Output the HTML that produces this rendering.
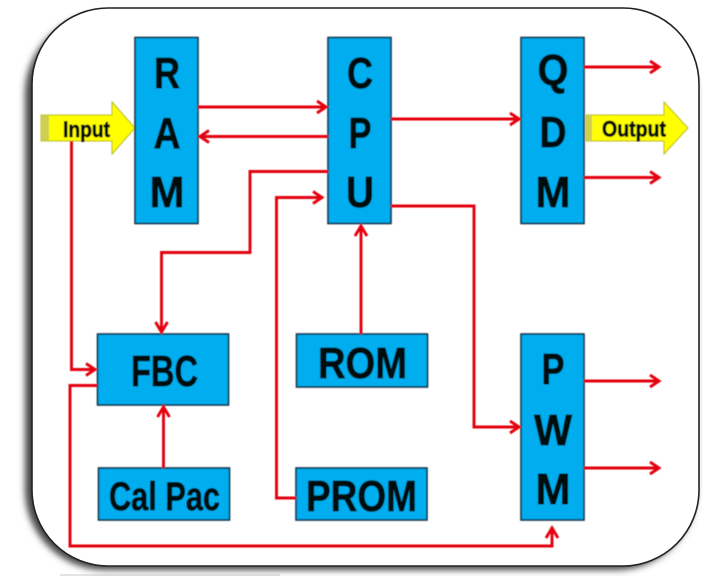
<!DOCTYPE html>
<html><head><meta charset="utf-8">
<style>
html,body{margin:0;padding:0;background:#fff;width:720px;height:576px;overflow:hidden}
svg{display:block}
text{font-family:"Liberation Sans",sans-serif;font-weight:bold;fill:#05070a;stroke:#05070a;stroke-width:.7px}
</style></head>
<body>
<svg width="720" height="576" viewBox="0 0 720 576" xmlns="http://www.w3.org/2000/svg">
<defs>
<filter id="s" x="-10%" y="-10%" width="120%" height="120%"><feGaussianBlur stdDeviation="3.500"/></filter>
<filter id="b" x="-5%" y="-5%" width="110%" height="110%"><feGaussianBlur stdDeviation="0.500"/></filter>
</defs>
<rect width="720" height="576" fill="#fff"/>
<rect x="60" y="574" width="220" height="2" fill="#e4e4e4"/>
<rect x="25" y="14" width="671" height="556" rx="80" fill="#444" filter="url(#s)"/>
<rect x="32" y="8" width="667" height="558" rx="76" fill="#fff" stroke="#222" stroke-width="1.600"/>
<g filter="url(#b)">
<!-- yellow arrows -->
<g stroke="#b8b820" stroke-width="1" fill="#ffff00">
<path d="M41 115H112V102L135 128L112 154V141H41Z"/>
<path d="M586 115H664V102L688 128L664 154V141H586Z"/>
</g>
<rect x="41" y="115" width="8" height="26" fill="#cfcf50"/>
<rect x="586" y="115" width="6" height="26" fill="#cfcf50"/>
<text x="63" y="137" font-size="22" textLength="47" lengthAdjust="spacingAndGlyphs">Input</text>
<text x="602" y="136.500" font-size="22" textLength="64" lengthAdjust="spacingAndGlyphs">Output</text>
<!-- boxes -->
<g fill="#00adef" stroke="#16364a" stroke-width="1.600">
<rect x="135" y="37.500" width="63" height="186"/>
<rect x="328" y="37.500" width="63" height="186"/>
<rect x="521" y="37.500" width="63" height="186"/>
<rect x="521" y="334" width="63" height="186"/>
<rect x="97.500" y="334" width="131" height="71"/>
<rect x="98.500" y="468" width="131" height="52"/>
<rect x="296.500" y="334" width="131" height="53"/>
<rect x="296" y="468" width="131" height="52"/>
</g>
<!-- letters -->
<g font-size="44" text-anchor="middle">
<text x="167" y="88" textLength="26" lengthAdjust="spacingAndGlyphs">R</text>
<text x="167" y="148" textLength="27" lengthAdjust="spacingAndGlyphs">A</text>
<text x="167" y="207" textLength="35" lengthAdjust="spacingAndGlyphs">M</text>
<text x="360" y="88" textLength="26" lengthAdjust="spacingAndGlyphs">C</text>
<text x="360" y="148" textLength="23" lengthAdjust="spacingAndGlyphs">P</text>
<text x="360" y="207" textLength="28" lengthAdjust="spacingAndGlyphs">U</text>
<text x="553" y="85" textLength="31" lengthAdjust="spacingAndGlyphs">Q</text>
<text x="553" y="147" textLength="27" lengthAdjust="spacingAndGlyphs">D</text>
<text x="553" y="207" textLength="35" lengthAdjust="spacingAndGlyphs">M</text>
<text x="553" y="384" textLength="23" lengthAdjust="spacingAndGlyphs">P</text>
<text x="553" y="445" textLength="38" lengthAdjust="spacingAndGlyphs">W</text>
<text x="553" y="504" textLength="35" lengthAdjust="spacingAndGlyphs">M</text>
</g>
<text x="131" y="386" font-size="44" textLength="67" lengthAdjust="spacingAndGlyphs">FBC</text>
<text x="318" y="378" font-size="44" textLength="89" lengthAdjust="spacingAndGlyphs">ROM</text>
<text x="306" y="511" font-size="44" textLength="111" lengthAdjust="spacingAndGlyphs">PROM</text>
<text x="109" y="510" font-size="40" textLength="111" lengthAdjust="spacingAndGlyphs">Cal Pac</text>
<!-- connectors -->
<g fill="none" stroke="#e4060e" stroke-width="2.900">
<path d="M198 107H326M317 101L326 107L317 113"/>
<path d="M328 136.500H200M209 130.500L200 136.500L209 142.500"/>
<path d="M328 171.500H250V252.500H161.500V332M155.500 322L161.500 332L167.500 322"/>
<path d="M296 498H276.500V197.500H322M313 191.500L322 197.500L313 203.500"/>
<path d="M361 334V226M355 236L361 226L367 236"/>
<path d="M391 119H519M510 113L519 119L510 125"/>
<path d="M391 206H474V427H519M510 421L519 427L510 433"/>
<path d="M71.500 141V369.500H95M86 363.500L95 369.500L86 375.500"/>
<path d="M97 385.500H70V546H552V528M546 538L552 528L558 538"/>
<path d="M163.500 468V407M157.500 417L163.500 407L169.500 417"/>
<path d="M584 67H659M650 61L659 67L650 73"/>
<path d="M584 177.500H659M650 171.500L659 177.500L650 183.500"/>
<path d="M584 381H659M650 375L659 381L650 387"/>
<path d="M584 468H659M650 462L659 468L650 474"/>
</g>
</g>
</svg>
</body></html>
